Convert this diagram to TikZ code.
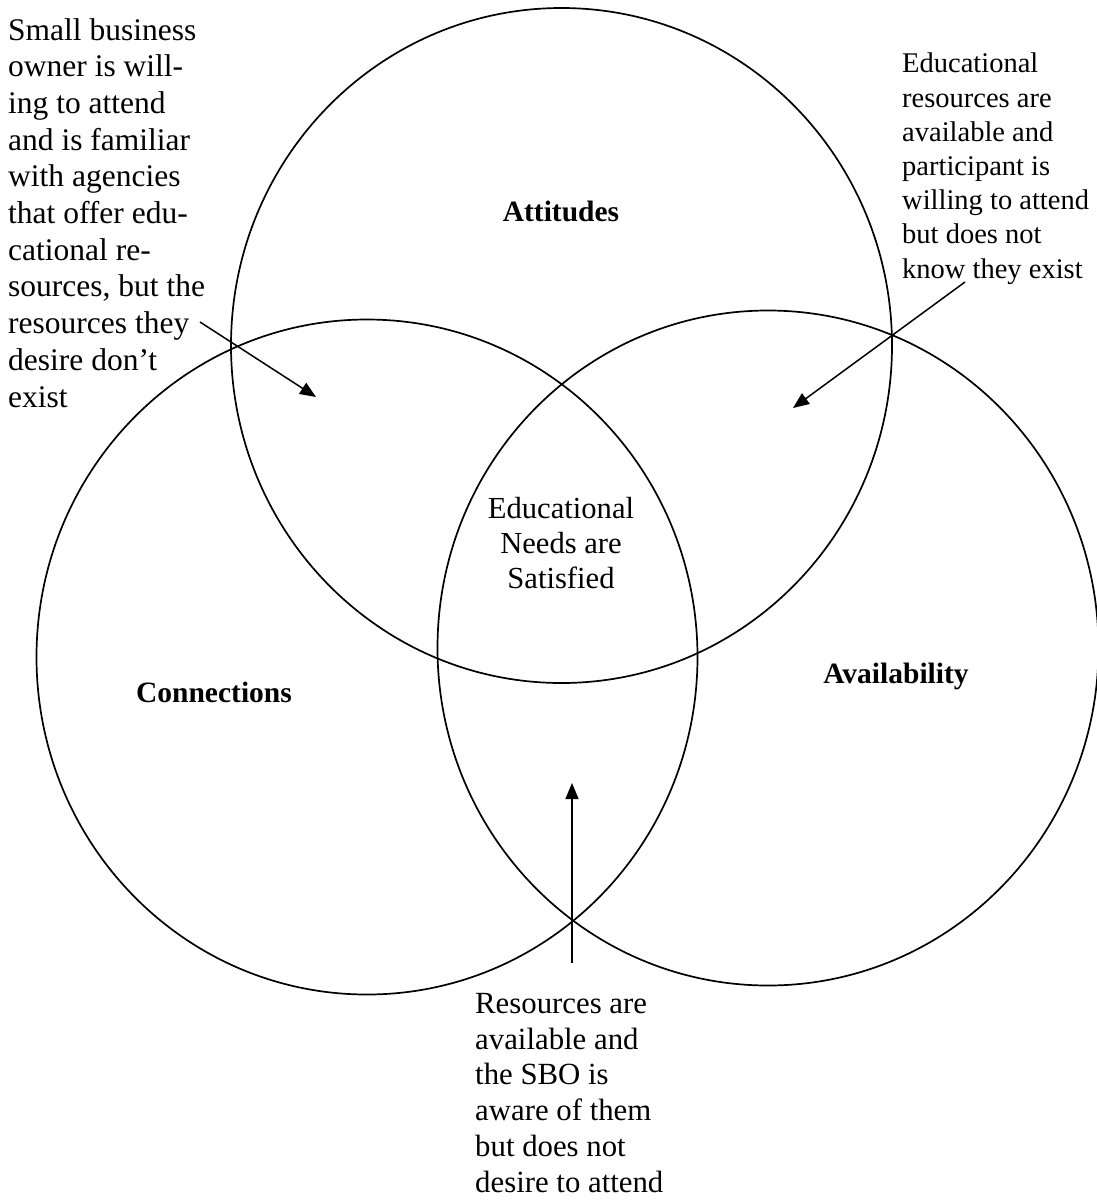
\documentclass[tikz,border=0pt]{standalone}
\usepackage{fontspec}
\setmainfont{Liberation Serif}
\usetikzlibrary{arrows.meta,shapes.geometric}
\begin{document}
\begin{tikzpicture}[x=1pt,y=-1pt,
  setc/.style={draw=black,line width=1.7pt,ellipse,minimum width=661pt,minimum height=675pt,inner sep=0pt},
  lbl/.style={font=\fontsize{29.5}{34}\selectfont\bfseries,inner sep=0pt,anchor=base},
  note/.style={inner sep=0pt,align=left},
  pointer/.style={line width=1.5pt,-{Triangle[length=16pt,width=13pt]}}]
\useasboundingbox (0,0) rectangle (1097,1200);
\node[setc] (att) at (561.5,345.5) {};
\node[setc] (con) at (367,657) {};
\node[setc] (ava) at (768,648) {};
\node[lbl] (attl) at (561,221) {Attitudes};
\node[lbl] (conl) at (214,702) {Connections};
\node[lbl] (aval) at (896,683) {Availability};
\node[note,anchor=north,align=center,font=\fontsize{30.6}{35}\selectfont] (mid) at (561,497) {Educational\\Needs are\\Satisfied};
\node[note,anchor=north west,font=\fontsize{31.5}{36.7}\selectfont] (lt) at (8,18) {Small business\\owner is will-\\ing to attend\\and is familiar\\with agencies\\that offer edu-\\cational re-\\sources, but the\\resources they\\desire don’t\\exist};
\node[note,anchor=north west,font=\fontsize{28.5}{34.2}\selectfont] (rt) at (902,53) {Educational\\resources are\\available and\\participant is\\willing to attend\\but does not\\know they exist};
\node[note,anchor=north west,font=\fontsize{30.8}{35.8}\selectfont] (bt) at (475,993) {Resources are\\available and\\the SBO is\\aware of them\\but does not\\desire to attend};
\coordinate (lts) at (200,322);
\coordinate (ltt) at (316,397);
\coordinate (rts) at (965,282);
\coordinate (rtt) at (793,408);
\coordinate (bts) at (572,963);
\coordinate (btt) at (572,783);
\draw[pointer] (lts) -- (ltt);
\draw[pointer] (rts) -- (rtt);
\draw[pointer] (bts) -- (btt);
\end{tikzpicture}
\end{document}
